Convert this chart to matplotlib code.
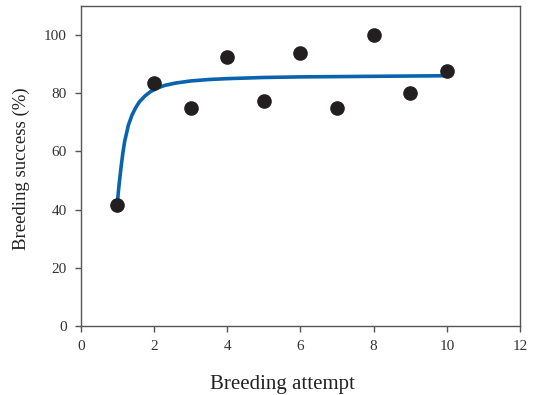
import numpy as np
import matplotlib
matplotlib.use("Agg")
import matplotlib.pyplot as plt

plt.rcParams['font.family'] = ['Liberation Serif', 'DejaVu Serif']

# observed breeding success per attempt
attempt = [1, 2, 3, 4, 5, 6, 7, 8, 9, 10]
success = [41.6, 83.4, 74.9, 92.5, 77.3, 93.8, 74.9, 100.0, 80.0, 87.6]

# fitted curve
curve_x = [1.0, 1.05, 1.1, 1.15, 1.2, 1.3, 1.4, 1.5, 1.6, 1.75, 1.9, 2.1,
           2.3, 2.6, 3.0, 3.5, 4.0, 5.0, 6.0, 7.0, 8.0, 9.0, 10.0]
curve_y = [42.5, 49.0, 54.5, 59.5, 63.5, 69.0, 72.5, 75.0, 77.0, 79.0, 80.5,
           81.8, 82.7, 83.5, 84.2, 84.7, 85.0, 85.4, 85.6, 85.7, 85.8, 85.9, 86.0]

xticks = [0, 2, 4, 6, 8, 10, 12]
yticks = [0, 20, 40, 60, 80, 100]

fig = plt.figure(figsize=(5.35, 3.95), dpi=100)
ax = fig.add_axes([0.151, 0.175, 0.821, 0.81])

ax.plot(curve_x, curve_y, color='#0a63ae', lw=2.6, solid_capstyle='round', zorder=2)
ax.plot(attempt, success, 'o', color='#231f20', ms=9.5, zorder=3)

ax.set_xlim(0, 12)
ax.set_ylim(0, 110)
ax.set_xticks(xticks)
ax.set_yticks(yticks)

for s in ax.spines.values():
    s.set_color('#555555')
    s.set_linewidth(1.0)
ax.tick_params(direction='out', length=4, width=1, color='#555555',
               labelsize=11, labelcolor='#333333', pad=6)

ax.set_xlabel('Breeding attempt', fontsize=15, color='#222222')
ax.set_ylabel('Breeding success (%)', fontsize=13.5, color='#222222')
ax.xaxis.set_label_coords(0.458, -0.155)
ax.yaxis.set_label_coords(-0.115, 0.49)

fig.savefig('out.png', dpi=100)
